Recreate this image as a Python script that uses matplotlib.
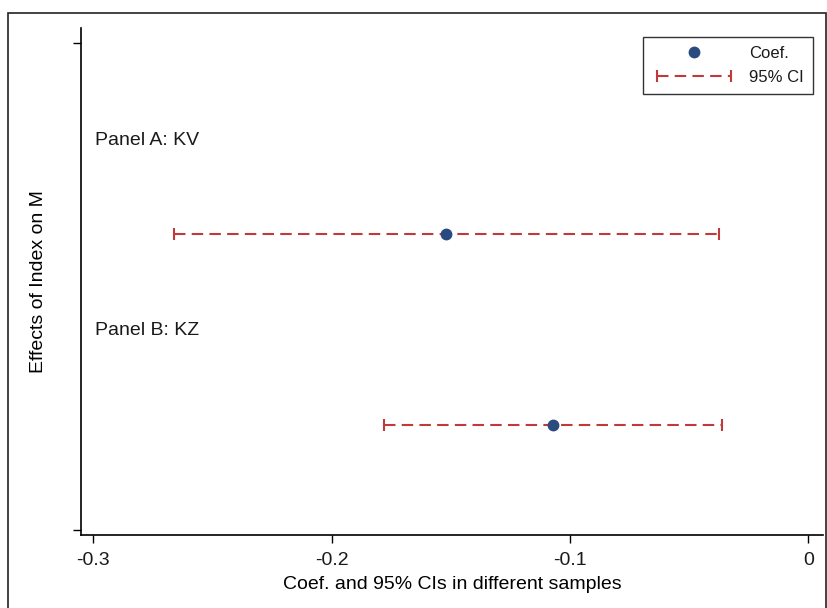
import matplotlib.pyplot as plt
from matplotlib.lines import Line2D
from matplotlib.legend_handler import HandlerLine2D
from matplotlib.patches import Rectangle

plt.rcParams['font.family'] = ['Liberation Sans', 'DejaVu Sans']
plt.rcParams['text.color'] = '#1a1a1a'

# estimates
panels = ['Panel A: KV', 'Panel B: KZ']
coef = [-0.152, -0.107]
ci_low = [-0.266, -0.178]
ci_high = [-0.0375, -0.036]
y_pos = [3.04, 1.08]
label_y = [4.0, 2.05]
xticks = [-0.3, -0.2, -0.1, 0]
xticklabels = ['-0.3', '-0.2', '-0.1', '0']

RED = '#c0393b'
NAVY = '#2b4b80'
DASH = (0, (5.5, 3.0))

fig = plt.figure(figsize=(8.28, 6.08), dpi=100)
ax = fig.add_axes([0.0975, 0.12, 0.8965, 0.834])

ax.hlines(y_pos, ci_low, ci_high, colors=RED, linewidth=1.5, linestyles=DASH)
ax.plot(ci_low, y_pos, '|', color=RED, markersize=8, markeredgewidth=1.5)
ax.plot(ci_high, y_pos, '|', color=RED, markersize=8, markeredgewidth=1.5)
ax.plot(coef, y_pos, 'o', color=NAVY, markersize=7.5, zorder=3)

for lab, yy in zip(panels, label_y):
    ax.text(-0.2993, yy, lab, fontsize=14, va='center', ha='left')

ax.set_xlim(-0.3053, 0.0062)
ax.set_ylim(-0.051, 5.151)
ax.set_xticks(xticks)
ax.set_xticklabels(xticklabels, fontsize=14, color='#1a1a1a')
ax.set_yticks([0, 5])
ax.set_yticklabels([])
ax.tick_params(direction='out', length=6, width=1, pad=6)
for side in ['top', 'right']:
    ax.spines[side].set_visible(False)
for side in ['left', 'bottom']:
    ax.spines[side].set_linewidth(1.2)

ax.set_xlabel('Coef. and 95% CIs in different samples', fontsize=14, labelpad=5)
ax.set_ylabel('Effects of Index on M', fontsize=14, labelpad=12)

h_coef = Line2D([], [], ls='none', marker='o', color=NAVY, markersize=7.5)
h_ci = Line2D([], [], color=RED, linewidth=1.5, linestyle=DASH,
              marker='|', markersize=8, markeredgewidth=1.5)
ax.legend([h_coef, h_ci], ['Coef.', '95% CI'],
          handler_map={h_ci: HandlerLine2D(numpoints=2),
                       h_coef: HandlerLine2D(numpoints=1)},
          loc='upper right', bbox_to_anchor=(813 / 828, 1 - 36.7 / 608),
          bbox_transform=fig.transFigure, fontsize=12, fancybox=False,
          edgecolor='#333333', framealpha=1, handlelength=5.0,
          handletextpad=0.8, borderaxespad=0, borderpad=0.55,
          labelspacing=0.55)

# outer graph region border
fig.patches.append(Rectangle((8 / 828, -0.1), 818 / 828, 1.1 - 12.7 / 608,
                             transform=fig.transFigure, fill=False,
                             edgecolor='#222222', linewidth=1.2))

fig.savefig('out.png', dpi=100)
